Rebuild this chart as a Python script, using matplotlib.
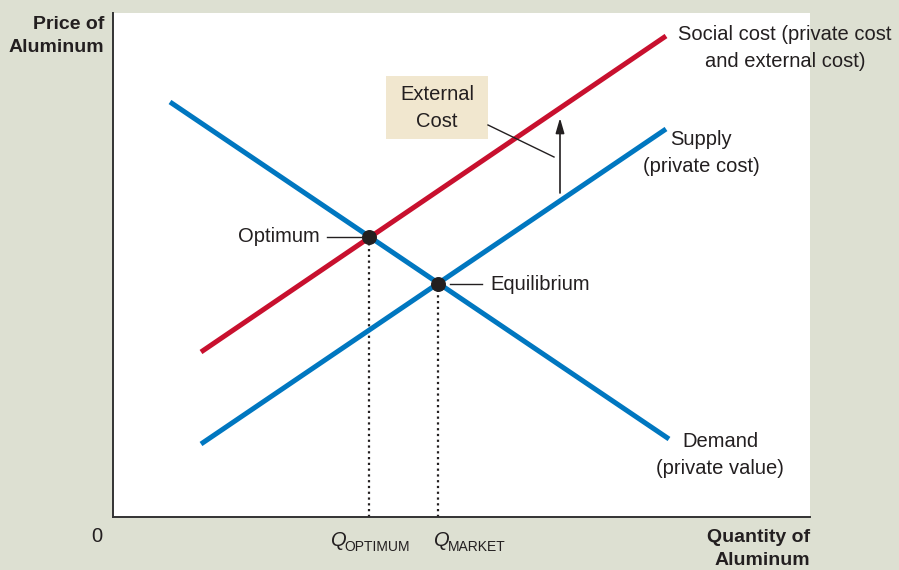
import matplotlib.pyplot as plt
from matplotlib.patches import FancyArrowPatch, Rectangle

plt.rcParams["font.family"] = ["Liberation Sans", "DejaVu Sans"]

BG = "#dde0d2"
BLUE = "#0077c0"
RED = "#c8102e"
INK = "#231f20"
BOX = "#f1e7cf"

# ---- data (axes units, origin at the corner of the axes) ----
demand_q = [57, 556]
demand_p = [415, 78]
supply_q = [88, 553]
supply_p = [73, 388]
social_q = [88, 553]
social_p = [165, 481]
optimum = (256, 280)
equilibrium = (325, 233)
ext_arrow_q = 447
ext_arrow_p = [324, 399]

W, H = 697, 504
FS = 14.5
LS = 1.5

fig = plt.figure(figsize=(8.99, 5.70), dpi=100)
fig.patch.set_facecolor(BG)
ax = fig.add_axes([113 / 899, 53 / 570, W / 899, H / 570])
ax.set_facecolor("white")
ax.set_xlim(0, W)
ax.set_ylim(0, H)
ax.set_xticks([])
ax.set_yticks([])
for side in ("top", "right"):
    ax.spines[side].set_visible(False)
for side in ("left", "bottom"):
    ax.spines[side].set_color("#333333")
    ax.spines[side].set_linewidth(1.4)

# curves
ax.plot(demand_q, demand_p, color=BLUE, lw=3.6, solid_capstyle="butt", zorder=3)
ax.plot(supply_q, supply_p, color=BLUE, lw=3.6, solid_capstyle="butt", zorder=3)
ax.plot(social_q, social_p, color=RED, lw=3.6, solid_capstyle="butt", zorder=3)

# guide lines and points
for q, p in (optimum, equilibrium):
    ax.plot([q, q], [0, p], color=INK, lw=1.6, ls=(0, (1, 1.6)), zorder=2)
    ax.scatter([q], [p], s=95, color=INK, zorder=5)

# external cost arrow
ax.add_patch(FancyArrowPatch((ext_arrow_q, ext_arrow_p[0]), (ext_arrow_q, ext_arrow_p[1]),
                             arrowstyle="-|>,head_length=9,head_width=2.6",
                             color=INK, lw=1.2, zorder=4, shrinkA=0, shrinkB=0))

# external cost box + leader
ax.add_patch(Rectangle((273, 378), 102, 63, facecolor=BOX, edgecolor="none", zorder=4))
ax.text(324, 409, "External\nCost", ha="center", va="center", fontsize=FS,
        color=INK, linespacing=LS, zorder=5)
ax.plot([375, 441], [392, 360], color=INK, lw=1.0, zorder=4)

# point labels
ax.text(207, 280, "Optimum", ha="right", va="center", fontsize=FS, color=INK)
ax.plot([214, 249], [280, 280], color=INK, lw=1.0)
ax.text(377, 233, "Equilibrium", ha="left", va="center", fontsize=FS, color=INK)
ax.plot([337, 369], [233, 233], color=INK, lw=1.0)

# curve labels
kw = dict(fontsize=FS, color=INK, linespacing=LS, clip_on=False)
ax.text(672, 469, "Social cost (private cost\nand external cost)", ha="center",
        va="center", **kw)
ax.text(588, 364, "Supply\n(private cost)", ha="center", va="center", **kw)
ax.text(607, 62, "Demand\n(private value)", ha="center", va="center", **kw)

# axis labels
ax.text(-9, 481, "Price of\nAluminum", ha="right", va="center", fontsize=14,
        fontweight="bold", color=INK, linespacing=1.5, clip_on=False)
ax.text(W, -32, "Quantity of\nAluminum", ha="right", va="center", fontsize=14,
        fontweight="bold", color=INK, linespacing=1.5, clip_on=False)
ax.text(-16, -19, "0", ha="center", va="center", fontsize=FS, color=INK)

# Q labels
for left, sub in ((218, "OPTIMUM"), (321, "MARKET")):
    qt = ax.text(left, -29, "Q", ha="left", va="baseline", fontsize=FS,
                 style="italic", color=INK, clip_on=False)
    ax.annotate(sub, xy=(1, 0), xycoords=qt, xytext=(-1.5, -1),
                textcoords="offset points", ha="left", va="baseline",
                fontsize=10, color=INK)

fig.savefig("out.png", dpi=100, facecolor=BG)
